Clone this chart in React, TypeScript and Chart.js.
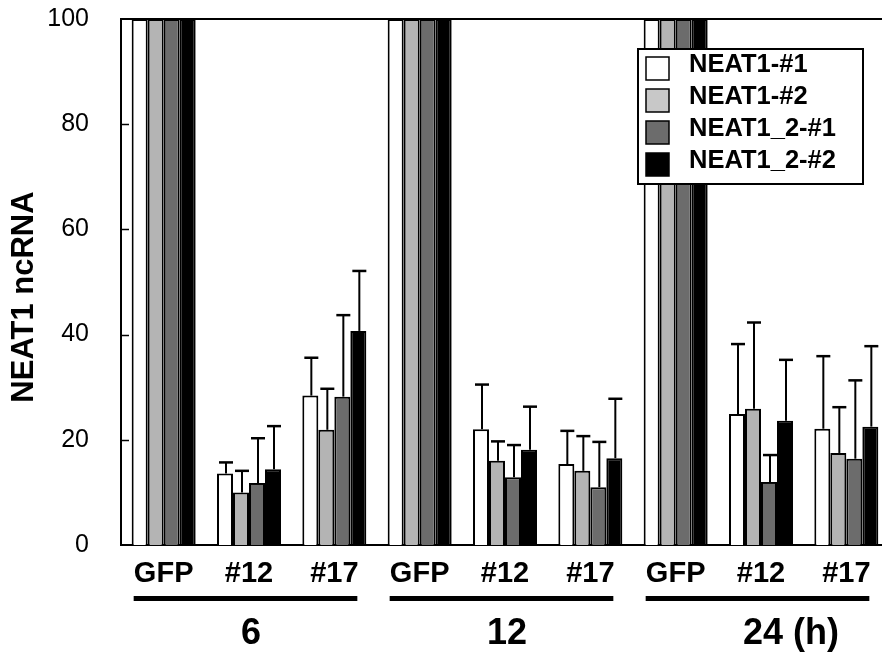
import React, { useEffect, useRef } from "react";
import { Chart, registerables } from "chart.js";

Chart.register(...registerables);

const CATEGORIES = ["GFP", "#12", "#17", "GFP", "#12", "#17", "GFP", "#12", "#17"];
const GROUP_LABELS = ["6", "12", "24"];
const GROUP_SUFFIX = ["", "", " (h)"];
const SERIES_NAMES = ["NEAT1-#1", "NEAT1-#2", "NEAT1_2-#1", "NEAT1_2-#2"];
const SERIES_COLORS = ["#ffffff", "#b4b4b4", "#6c6c6c", "#000000"];
const LEGEND_COLORS = ["#ffffff", "#c8c8c8", "#6c6c6c", "#000000"];

const NEAT1_1 = [100, 13.6, 28.4, 100, 22.0, 15.4, 100, 24.9, 22.1];
const NEAT1_1_SD = [0, 2.1, 7.2, 0, 8.5, 6.3, 0, 13.3, 13.8];
const NEAT1_2 = [100, 10.0, 21.9, 100, 16.0, 14.1, 100, 25.9, 17.5];
const NEAT1_2_SD = [0, 4.1, 7.8, 0, 3.7, 6.6, 0, 16.4, 8.7];
const NEAT1_2_1 = [100, 11.8, 28.2, 100, 12.9, 11.0, 100, 12.0, 16.4];
const NEAT1_2_1_SD = [0, 8.5, 15.5, 0, 6.1, 8.6, 0, 5.1, 14.9];
const NEAT1_2_2 = [100, 14.4, 40.7, 100, 18.1, 16.5, 100, 23.6, 22.5];
const NEAT1_2_2_SD = [0, 8.2, 11.4, 0, 8.2, 11.3, 0, 11.6, 15.3];

const VALUES = [NEAT1_1, NEAT1_2, NEAT1_2_1, NEAT1_2_2];
const SDS = [NEAT1_1_SD, NEAT1_2_SD, NEAT1_2_1_SD, NEAT1_2_2_SD];

const Y_MIN = 0;
const Y_MAX = 100;
const Y_STEP = 20;
const Y_TITLE = "NEAT1 ncRNA";

const FONT = "'Liberation Sans', Arial, Helvetica, sans-serif";

const errorBarPlugin = {
  id: "errorBars",
  afterDatasetsDraw(chart: any) {
    const ctx = chart.ctx;
    const yScale = chart.scales.y;
    ctx.save();
    ctx.strokeStyle = "#000";
    chart.data.datasets.forEach((ds: any, di: number) => {
      const meta = chart.getDatasetMeta(di);
      meta.data.forEach((bar: any, j: number) => {
        const sd = ds.sd[j];
        if (!sd) return;
        const v = ds.data[j];
        const yTop = yScale.getPixelForValue(v + sd);
        const x = bar.x + 1;
        ctx.lineWidth = 2;
        ctx.beginPath();
        ctx.moveTo(x, bar.y);
        ctx.lineTo(x, yTop);
        ctx.stroke();
        ctx.lineWidth = 2.5;
        ctx.beginPath();
        ctx.moveTo(x - 7, yTop);
        ctx.lineTo(x + 7, yTop);
        ctx.stroke();
      });
    });
    ctx.restore();
  },
};

const decorPlugin = {
  id: "decor",
  afterDraw(chart: any) {
    const ctx = chart.ctx;
    const { left, right, top, bottom } = chart.chartArea;
    const x = chart.scales.x;
    const y = chart.scales.y;
    ctx.save();
    // top frame line
    ctx.strokeStyle = "#000";
    ctx.lineWidth = 2;
    ctx.beginPath();
    ctx.moveTo(left - 1, top);
    ctx.lineTo(right, top);
    ctx.stroke();
    // inward tick marks
    ctx.lineWidth = 1.5;
    for (let v = Y_MIN + Y_STEP; v < Y_MAX; v += Y_STEP) {
      const py = Math.round(y.getPixelForValue(v)) + 0.5;
      ctx.beginPath();
      ctx.moveTo(left, py);
      ctx.lineTo(left + 8, py);
      ctx.stroke();
    }
    // y title
    ctx.fillStyle = "#000";
    ctx.font = `bold 31px ${FONT}`;
    ctx.textAlign = "center";
    ctx.textBaseline = "middle";
    ctx.save();
    ctx.translate(24, (top + bottom) / 2 + 15);
    ctx.rotate(-Math.PI / 2);
    ctx.fillText(Y_TITLE, 0, 0);
    ctx.restore();
    // group underlines and labels
    GROUP_LABELS.forEach((lab, g) => {
      const first = g * 3;
      const last = g * 3 + 2;
      const x0 = x.getPixelForValue(first) - 30;
      const x1 = x.getPixelForValue(last) + 23;
      ctx.fillRect(x0, bottom + 51, x1 - x0, 5);
      const cx = x.getPixelForValue(first + 1);
      ctx.font = `bold 36px ${FONT}`;
      const w = ctx.measureText(lab).width;
      ctx.textAlign = "left";
      ctx.textBaseline = "middle";
      ctx.fillText(lab + GROUP_SUFFIX[g], cx - w / 2 + 2, bottom + 89);
    });
    // legend
    const lx = 638;
    const ly = 49;
    const lw = 225;
    const lh = 135;
    ctx.fillStyle = "#fff";
    ctx.fillRect(lx, ly, lw, lh);
    ctx.strokeStyle = "#000";
    ctx.lineWidth = 2;
    ctx.strokeRect(lx, ly, lw, lh);
    chart.data.datasets.forEach((ds: any, i: number) => {
      const sy = ly + 8 + i * 32;
      ctx.fillStyle = ds.legendColor;
      ctx.fillRect(lx + 8, sy, 23, 23);
      ctx.lineWidth = 1.5;
      ctx.strokeRect(lx + 8, sy, 23, 23);
      ctx.fillStyle = "#000";
      ctx.font = `bold 25.5px ${FONT}`;
      ctx.textAlign = "left";
      ctx.textBaseline = "middle";
      ctx.fillText(ds.label, lx + 51, sy + 8);
    });
    ctx.restore();
  },
};

export default function App() {
  const ref = useRef<HTMLCanvasElement>(null);
  useEffect(() => {
    document.body.style.margin = "0";
    document.body.style.overflow = "hidden";
    const canvas = ref.current!;
    const chart = new Chart(canvas, {
      type: "bar",
      data: {
        labels: CATEGORIES,
        datasets: SERIES_NAMES.map((name, i) => ({
          label: name,
          data: VALUES[i],
          sd: SDS[i],
          legendColor: LEGEND_COLORS[i],
          backgroundColor: SERIES_COLORS[i],
          borderColor: "#000",
          borderWidth: 2,
          barPercentage: 1,
          categoryPercentage: 0.75,
        })) as any,
      },
      options: {
        responsive: false,
        animation: false,
        devicePixelRatio: 1,
        layout: { autoPadding: false, padding: { top: 19, right: 3, left: 0, bottom: 0 } },
        plugins: {
          legend: { display: false },
          tooltip: { enabled: false },
        },
        scales: {
          x: {
            afterFit: (s: any) => {
              s.height = 114;
              s.paddingLeft = 0;
              s.paddingRight = 0;
            },
            grid: { display: false, drawTicks: false },
            border: { display: true, color: "#000", width: 2 },
            ticks: {
              color: "#000",
              padding: 12,
              font: { family: FONT, size: 29, weight: "bold" },
              maxRotation: 0,
              autoSkip: false,
            },
          },
          y: {
            min: Y_MIN,
            max: Y_MAX,
            afterFit: (s: any) => {
              s.width = 121;
              s.paddingTop = 0;
              s.paddingBottom = 0;
            },
            grid: { display: false, drawTicks: false },
            border: { display: true, color: "#000", width: 2 },
            ticks: {
              stepSize: Y_STEP,
              color: "#000",
              padding: 32,
              font: { family: FONT, size: 25 },
            },
          },
        },
      },
      plugins: [errorBarPlugin, decorPlugin],
    });
    return () => chart.destroy();
  }, []);
  return (
    <div
      style={{
        position: "fixed",
        left: 0,
        top: 0,
        width: 882,
        height: 659,
        overflow: "hidden",
        background: "#fff",
      }}
    >
      <canvas ref={ref} width={892} height={659} style={{ display: "block" }} />
    </div>
  );
}
